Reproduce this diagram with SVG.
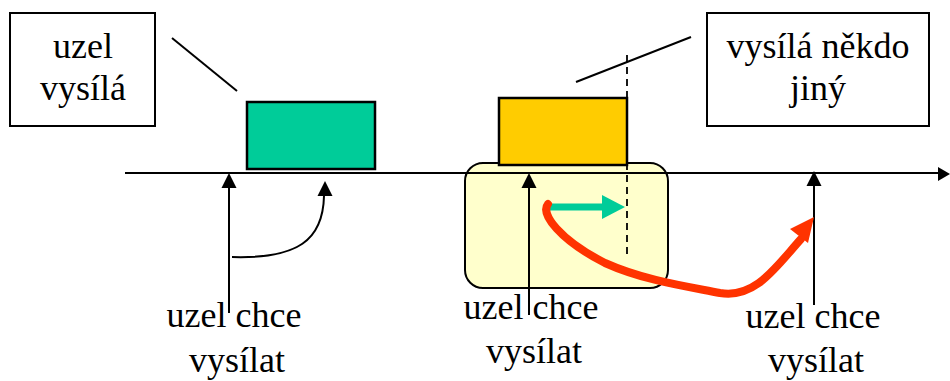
<svg xmlns="http://www.w3.org/2000/svg" width="950" height="381" viewBox="0 0 950 381">
<defs>
<marker id="unused" markerWidth="1" markerHeight="1"/>
</defs>
<rect width="950" height="381" fill="#fff"/>
<g id="region">
<rect x="465" y="163" width="203" height="125" rx="18" fill="#FFFFCC" stroke="#000" stroke-width="2"/>
</g>
<g id="frame-green">
<rect x="247" y="102" width="128" height="67" fill="#00CC99" stroke="#000" stroke-width="2.5"/>
</g>
<g id="frame-orange">
<rect x="499" y="98" width="128" height="67" fill="#FFCC00" stroke="#000" stroke-width="2.5"/>
</g>
<g id="label-uzel-vysila">
<rect x="10" y="13" width="145" height="113" fill="#fff" stroke="#000" stroke-width="2"/>
<text x="83" y="58" font-family="Liberation Serif" font-size="36" text-anchor="middle">uzel</text>
<text x="83" y="100" font-family="Liberation Serif" font-size="36" text-anchor="middle">vysílá</text>
</g>
<g id="label-vysila-nekdo">
<rect x="707" y="13" width="222" height="113" fill="#fff" stroke="#000" stroke-width="2"/>
<text x="818" y="58" font-family="Liberation Serif" font-size="36" text-anchor="middle">vysílá někdo</text>
<text x="818" y="100" font-family="Liberation Serif" font-size="36" text-anchor="middle">jiný</text>
</g>
<g id="label-1">
<text x="234" y="327" font-family="Liberation Serif" font-size="36" text-anchor="middle">uzel chce</text>
<text x="237" y="372" font-family="Liberation Serif" font-size="36" text-anchor="middle">vysílat</text>
</g>
<g id="label-2">
<text x="531" y="319" font-family="Liberation Serif" font-size="36" text-anchor="middle">uzel chce</text>
<text x="534" y="363" font-family="Liberation Serif" font-size="36" text-anchor="middle">vysílat</text>
</g>
<g id="label-3">
<text x="813" y="328" font-family="Liberation Serif" font-size="36" text-anchor="middle">uzel chce</text>
<text x="816" y="372" font-family="Liberation Serif" font-size="36" text-anchor="middle">vysílat</text>
</g>
<g id="connectors" stroke-width="2">
<line x1="125" y1="173" x2="940" y2="173" stroke="#000"/>
<polygon points="950,174 938,167 938,181" fill="#000"/>
<line x1="172" y1="38" x2="237" y2="91" stroke="#000"/>
<line x1="576" y1="82" x2="691" y2="37" stroke="#000"/>
<line x1="229" y1="186" x2="229" y2="313" stroke="#000"/>
<polygon points="229,173 221.5,188 236.5,188" fill="#000"/>
<path d="M232,257 C298,259 323,240 324,196" fill="none" stroke="#000"/>
<polygon points="325,181 317.5,196 332.5,196" fill="#000"/>
<line x1="529" y1="186" x2="529" y2="315" stroke="#000"/>
<polygon points="529,173 521.5,188 536.5,188" fill="#000"/>
<line x1="814" y1="184" x2="814" y2="305" stroke="#000"/>
<polygon points="814,171 806.5,186 821.5,186" fill="#000"/>
<line x1="627" y1="55" x2="627" y2="259" stroke="#000" stroke-width="1.8" stroke-dasharray="7,5"/>
<line x1="550" y1="207" x2="604" y2="207" stroke="#00CC99" stroke-width="7"/>
<polygon points="625,207 602,195 602,219" fill="#00CC99"/>
<path d="M548,204 C540,214 560,240 605,263 C645,281 690,287 720,293 C755,299 775,268 801,239" fill="none" stroke="#FF3300" stroke-width="8" stroke-linecap="round"/>
<polygon points="814,217 808,243 790,229" fill="#FF3300"/>
</g>
</svg>
